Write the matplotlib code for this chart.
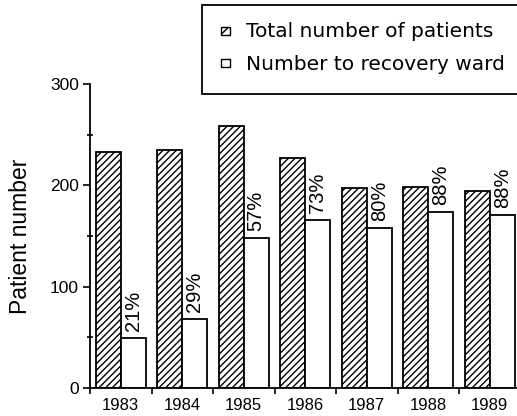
import matplotlib
matplotlib.use("Agg")
import matplotlib.pyplot as plt
from matplotlib.patches import Rectangle
import numpy as np

years = ["1983", "1984", "1985", "1986", "1987", "1988", "1989"]
total_patients = [233, 235, 259, 227, 197, 198, 194]
recovery_ward = [49, 68, 148, 166, 158, 174, 171]
percent_labels = ["21%", "29%", "57%", "73%", "80%", "88%", "88%"]

plt.rcParams['font.family'] = ['Liberation Sans', 'DejaVu Sans']
plt.rcParams['hatch.linewidth'] = 1.0

W, H = 517, 416
fig = plt.figure(figsize=(W / 100, H / 100), dpi=100)
ax = fig.add_axes([90 / W, (H - 388) / H, (520.5 - 90) / W, (388 - 84) / H])

x = np.arange(len(years))
bw = 25 / 61.5
ax.bar(x - bw / 2, total_patients, bw, facecolor='white', edgecolor='black',
       hatch='/////', linewidth=1.3)
ax.bar(x + bw / 2, recovery_ward, bw, facecolor='white', edgecolor='black',
       linewidth=1.3)

for xi, v, lab in zip(x, recovery_ward, percent_labels):
    ax.annotate(lab, (xi + bw / 2, v), xytext=(0, 5), textcoords='offset points',
                rotation=90, ha='center', va='bottom', fontsize=14.5)

ax.set_xlim(-0.5, 6.5)
ax.set_ylim(0, 300)
ax.spines['top'].set_visible(False)
ax.spines['right'].set_visible(False)
ax.spines['left'].set_linewidth(1.3)
ax.spines['bottom'].set_linewidth(1.3)

ax.set_xticks(x)
ax.set_xticklabels(years, fontsize=12)
ax.set_xticks(np.arange(-0.5, 7, 1), minor=True)
ax.tick_params(axis='x', which='major', length=0, pad=7)
ax.tick_params(axis='x', which='minor', length=4, width=1.2, direction='out')

ax.set_yticks([0, 100, 200, 300])
ax.set_yticklabels(["0", "100", "200", "300"], fontsize=12.5)
ax.set_yticks([50, 150, 250], minor=True)
ax.tick_params(axis='y', which='major', length=5, width=1.2, direction='out', pad=3)
ax.tick_params(axis='y', which='minor', length=4, width=1.2, direction='inout')
ax.set_ylabel("Patient number", fontsize=16.5, labelpad=13)

# Legend box drawn in pixel coordinates
def px(xp, yp):
    return (xp / W, 1 - yp / H)

box = Rectangle(px(202, 94), (W + 20 - 202) / W, (94 - 5) / H,
                transform=fig.transFigure, facecolor='white', edgecolor='black',
                linewidth=1.3, clip_on=False, zorder=5)
fig.patches.append(box)
s1 = Rectangle(px(221, 35), 9 / W, 8.5 / H, transform=fig.transFigure,
               facecolor='white', edgecolor='black', hatch='///', linewidth=1.0, zorder=6)
s2 = Rectangle(px(221, 67), 9 / W, 8.5 / H, transform=fig.transFigure,
               facecolor='white', edgecolor='black', linewidth=1.0, zorder=6)
fig.patches.extend([s1, s2])
fig.text(*px(246, 37), "Total number of patients", fontsize=14.5, va='baseline',
         ha='left', family='DejaVu Sans', zorder=7)
fig.text(*px(246, 70), "Number to recovery ward", fontsize=14.5, va='baseline',
         ha='left', family='DejaVu Sans', zorder=7)

fig.savefig("out.png", dpi=100)
